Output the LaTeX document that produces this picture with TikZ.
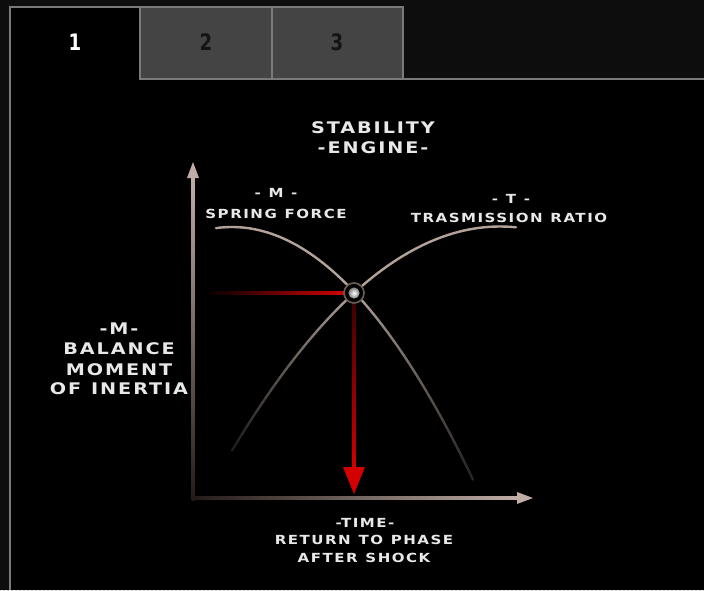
\documentclass[tikz,border=0pt]{standalone}
\usepackage{fontspec}
\usetikzlibrary{patterns}
\newfontfamily\eurofont[FakeStretch=1.2,LetterSpace=12,WordSpace=1.15]{DejaVu Sans}
\newfontfamily\tabfont[FakeStretch=0.8]{DejaVu Sans}
\definecolor{bgtex}{RGB}{12,12,12}
\definecolor{bgdot}{RGB}{26,26,26}
\definecolor{tabborder}{RGB}{122,122,122}
\definecolor{tabfill}{RGB}{68,68,68}
\definecolor{tabtext}{RGB}{20,20,20}
\definecolor{axislight}{RGB}{192,174,166}
\definecolor{axisdark}{RGB}{36,26,24}
\definecolor{curvecol}{RGB}{178,162,154}
\definecolor{redbright}{RGB}{212,0,0}
\definecolor{reddark}{RGB}{60,0,0}
\definecolor{textcol}{RGB}{232,232,232}
\definecolor{ringcol}{RGB}{105,90,84}
\tikzset{
  lbl/.style={font=\eurofont\bfseries\fontsize{9.4}{11}\selectfont, text=textcol, inner sep=0pt, align=center},
  lblbig/.style={font=\eurofont\bfseries\fontsize{12}{13}\selectfont, text=textcol, inner sep=0pt, align=center},
  tablbl/.style={font=\tabfont\bfseries\fontsize{17}{17}\selectfont, inner sep=0pt},
  tabbox/.style={draw=tabborder, fill=tabfill, line width=0.9pt},
  seg/.style={line width=1.8pt, line cap=round}
}
\begin{document}
\begin{tikzpicture}[x=0.75pt,y=-0.75pt]
\useasboundingbox (0,0) rectangle (704,590);
% background texture
\fill[bgtex] (0,0) rectangle (704,590);
\fill[pattern=crosshatch dots, pattern color=bgdot] (0,0) rectangle (704,590);
% main black panel
\fill[black] (10,79) rectangle (704,590);
\fill[black] (10,7) rectangle (140,79);
% tabs
\draw[tabbox] (140,7) rectangle (272,79);
\draw[tabbox] (272,7) rectangle (403,79);
\draw[tabborder, line width=0.9pt] (10,590) -- (10,7) -- (140,7);
\draw[tabborder, line width=0.9pt] (140,79) -- (704,79);
\node[tablbl, text=white] (t1) at (75,42) {1};
\node[tablbl, text=tabtext] (t2) at (206,42) {2};
\node[tablbl, text=tabtext] (t3) at (337,42) {3};
% title
\node[lblbig] (title1) at (373,128) {STABILITY};
\node[lblbig] (title2) at (373,148) {-ENGINE-};
% axes
\coordinate (O) at (193,499);
\coordinate (ytip) at (193,162);
\coordinate (xtip) at (533,498);
\shade[bottom color=axisdark, top color=axislight] (191.5,176) rectangle (194.5,500);
\fill[axislight] (ytip) -- (199,178) -- (187,178) -- cycle;
\shade[left color=axisdark, right color=axislight] (192,496.5) rectangle (519,499.5);
\fill[axislight] (xtip) -- (517,492) -- (517,504) -- cycle;
% spring force curve (M)
\foreach \i in {0,...,59}{
  \pgfmathsetmacro{\xa}{216+4.2833*\i}
  \pgfmathsetmacro{\xb}{216+4.2833*(\i+1)}
  \pgfmathsetmacro{\ya}{227+43.5*((\xa-232)/100)^2}
  \pgfmathsetmacro{\yb}{227+43.5*((\xb-232)/100)^2}
  \pgfmathsetmacro{\p}{\xa<354 ? 100 : 100-80*(\xa-354)/119}
  \draw[seg, color=curvecol!\p!black] (\xa,\ya) -- (\xb,\yb);
}
% transmission ratio curve (T)
\foreach \i in {0,...,59}{
  \pgfmathsetmacro{\xa}{516-4.7333*\i}
  \pgfmathsetmacro{\xb}{516-4.7333*(\i+1)}
  \pgfmathsetmacro{\ya}{226.5+31.2*((\xa-500)/100)^2}
  \pgfmathsetmacro{\yb}{226.5+31.2*((\xb-500)/100)^2}
  \pgfmathsetmacro{\p}{\xa>354 ? 100 : 100-85*(354-\xa)/122}
  \draw[seg, color=curvecol!\p!black] (\xa,\ya) -- (\xb,\yb);
}
% red guide lines
\coordinate (X) at (354,293);
\shade[left color=black, right color=redbright] (203,291.5) rectangle (348,294.5);
\shade[top color=reddark, bottom color=redbright] (352.5,300) rectangle (355.5,470);
\coordinate (rtip) at (354,494);
\fill[redbright] (rtip) -- (343,467) -- (365,467) -- cycle;
% intersection marker
\draw[ringcol, fill=black, line width=1.3pt] (X) circle[radius=7.5pt];
\shade[inner color=white, outer color=gray] (X) circle[radius=4.2pt];
% curve labels
\node[lbl] (m1) at (276,193) {- M -};
\node[lbl] (m2) at (276,214) {SPRING FORCE};
\node[lbl] (tr1) at (511,199) {- T -};
\node[lbl] (tr2) at (509,218) {TRASMISSION RATIO};
% y axis label
\node[lblbig] (y1) at (119,329) {-M-};
\node[lblbig] (y2) at (119,349) {BALANCE};
\node[lblbig] (y3) at (119,370) {MOMENT};
\node[lblbig] (y4) at (119,389) {OF INERTIA};
% x axis label
\node[lbl] (x1) at (365,523) {-TIME-};
\node[lbl] (x2) at (364,540) {RETURN TO PHASE};
\node[lbl] (x3) at (364,558) {AFTER SHOCK};
\end{tikzpicture}
\end{document}
